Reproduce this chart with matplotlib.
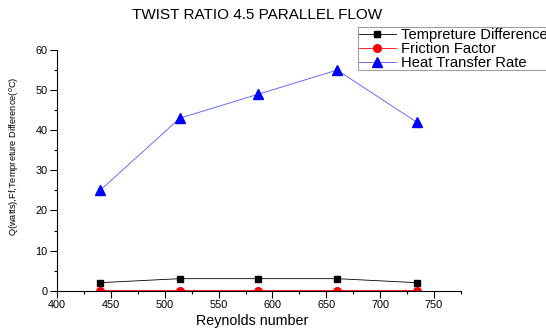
import matplotlib.pyplot as plt

plt.rcParams['font.family'] = ['Liberation Sans', 'DejaVu Sans']

reynolds = [440, 514, 587, 660, 734]
temp_diff = [2, 3, 3, 3, 2]
friction = [0.05, 0.04, 0.04, 0.03, 0.03]
heat_rate = [25, 43, 49, 55, 42]

fig = plt.figure(figsize=(5.46, 3.29), dpi=100)
ax = fig.add_axes([0.1044, 0.1164, 0.7399, 0.7316])

ax.plot(reynolds, temp_diff, color='black', lw=0.6, marker='s', ms=5,
        label='Tempreture Difference')
ax.plot(reynolds, friction, color='red', lw=0.6, marker='o', ms=5.5,
        label='Friction Factor')
ax.plot(reynolds, heat_rate, color='#5555ff', lw=0.6, marker='^', ms=7,
        mfc='blue', mec='blue', label='Heat Transfer Rate')

ax.set_xlim(400, 775)
ax.set_ylim(0, 60)
ax.set_xticks(range(400, 751, 50))
ax.set_xticks(range(425, 776, 50), minor=True)
ax.set_yticks(range(0, 61, 10))
ax.set_yticks(range(5, 60, 10), minor=True)
ax.spines['top'].set_visible(False)
ax.spines['right'].set_visible(False)
ax.tick_params(labelsize=7.8, width=0.8, length=5, pad=2)
ax.tick_params(which='minor', width=0.8, length=2.5)

ax.set_xlabel('Reynolds number', fontsize=10.3)
ax.xaxis.set_label_coords(0.483, -0.095)
ax.set_ylabel('Q(watts),Ff,Tempreture Difference($^{o}$C)', fontsize=6.7)
ax.yaxis.set_label_coords(-0.09, 0.56)

fig.text(0.47, 0.955, 'TWIST RATIO 4.5 PARALLEL FLOW', ha='center', va='center', fontsize=11)

leg = fig.legend(loc='upper left', bbox_to_anchor=(358 / 546, 1 - 27 / 329),
                 fontsize=10.6, frameon=True, fancybox=False, handlelength=2.5,
                 borderpad=0.05, labelspacing=0.0, handletextpad=0.35, borderaxespad=0)
leg.get_frame().set_edgecolor('#888888')
leg.get_frame().set_linewidth(0.8)

fig.savefig('out.png', dpi=100)
